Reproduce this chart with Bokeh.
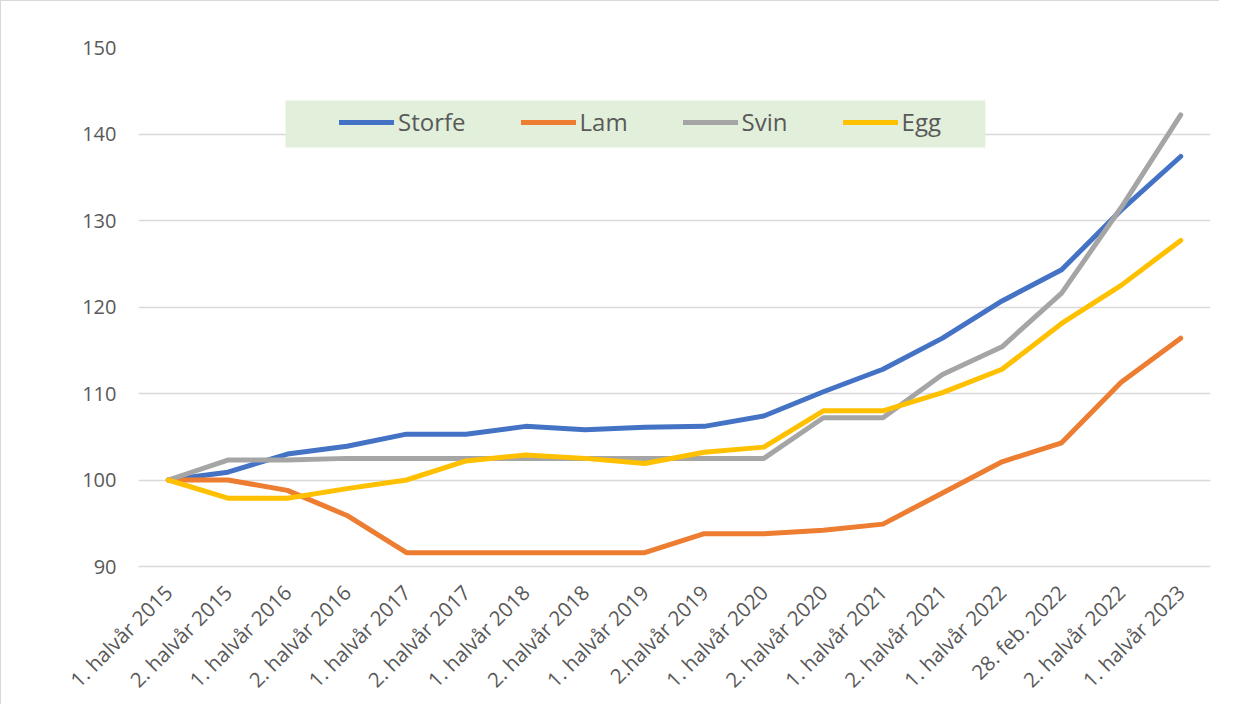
from bokeh.plotting import figure
from bokeh.models import Range1d, Legend, LegendItem, BoxAnnotation, FixedTicker
from bokeh.embed import file_html
from bokeh.resources import INLINE
from math import pi

categories = ["1. halvår 2015", "2. halvår 2015", "1. halvår 2016", "2. halvår 2016",
              "1. halvår 2017", "2. halvår 2017", "1. halvår 2018", "2. halvår 2018",
              "1. halvår 2019", "2.halvår 2019", "1. halvår 2020", "2. halvår 2020",
              "1. halvår 2021", "2. halvår 2021", "1. halvår 2022", "28. feb. 2022",
              "2. halvår 2022", "1. halvår 2023"]

storfe = [100, 100.9, 103.0, 103.9, 105.3, 105.3, 106.2, 105.8, 106.1, 106.2,
          107.4, 110.2, 112.8, 116.4, 120.7, 124.3, 131.2, 137.4]
lam = [100, 100, 98.8, 95.9, 91.6, 91.6, 91.6, 91.6, 91.6, 93.8,
       93.8, 94.2, 94.9, 98.5, 102.1, 104.3, 111.3, 116.4]
svin = [100, 102.3, 102.3, 102.5, 102.5, 102.5, 102.5, 102.5, 102.5, 102.5,
        102.5, 107.2, 107.2, 112.2, 115.4, 121.6, 131.5, 142.2]
egg = [100, 97.9, 97.9, 99.0, 100.0, 102.2, 102.9, 102.5, 101.9, 103.2,
       103.8, 108.0, 108.0, 110.1, 112.8, 118.1, 122.5, 127.7]

series_names = ["Storfe", "Lam", "Svin", "Egg"]
series_values = [storfe, lam, svin, egg]
series_colors = ["#4472C4", "#ED7D31", "#A5A5A5", "#FFC000"]
y_ticks = [90, 100, 110, 120, 130, 140, 150]

TEXT = "#595959"
GRID = "#D9D9D9"

p = figure(x_range=categories, y_range=Range1d(90, 150),
           width=1219, height=704, output_backend="svg", toolbar_location=None,
           min_border_left=137, min_border_right=10, min_border_top=46, min_border_bottom=139)
p.outline_line_color = None
p.background_fill_color = "white"
p.border_fill_color = "white"
p.styles = {"border-top": "1px solid #D9D9D9", "border-left": "1px solid #D9D9D9"}

p.xgrid.grid_line_color = None
p.ygrid.grid_line_color = GRID
p.ygrid.grid_line_width = 1.5
p.yaxis.ticker = FixedTicker(ticks=y_ticks)

p.yaxis.axis_line_color = None
p.yaxis.major_tick_line_color = None
p.yaxis.minor_tick_line_color = None
p.yaxis.major_label_standoff = 16
p.yaxis.major_label_text_font = "Open Sans"
p.yaxis.major_label_text_font_size = "20px"
p.yaxis.major_label_text_color = TEXT

p.xaxis.axis_line_color = GRID
p.xaxis.axis_line_width = 1.5
p.xaxis.major_tick_line_color = None
p.xaxis.minor_tick_line_color = None
p.xaxis.major_label_orientation = pi / 4
p.xaxis.major_label_standoff = 16
p.xaxis.major_label_text_font = "Open Sans"
p.xaxis.major_label_text_font_size = "20.5px"
p.xaxis.major_label_text_color = TEXT

box = BoxAnnotation(left=2.47, right=14.22, bottom=138.45, top=143.87,
                    fill_color="#E2EFDA", fill_alpha=1.0, line_color=None)
p.add_layout(box)

items = []
for name, vals, col in zip(series_names, series_values, series_colors):
    r = p.line(categories, vals, line_color=col, line_width=5,
               line_join="round", line_cap="round")
    items.append(LegendItem(label=name, renderers=[r]))

legend = Legend(items=items, orientation="horizontal", location=(201, 428),
                padding=0, margin=0, spacing=55, glyph_width=55, glyph_height=30,
                label_height=30, label_standoff=4,
                label_text_font="Open Sans", label_text_font_size="24px",
                label_text_color=TEXT, border_line_color=None,
                background_fill_alpha=0)
p.add_layout(legend, "center")

open("out.html", "w").write(file_html(p, INLINE))
